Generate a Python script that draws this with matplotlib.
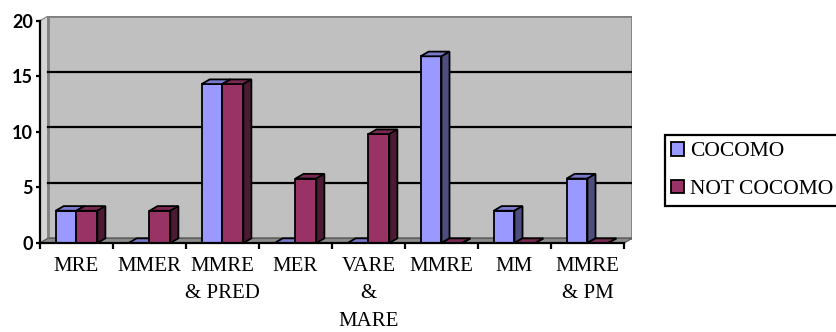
import matplotlib.pyplot as plt
from matplotlib.patches import Polygon, Patch

categories = ["MRE", "MMER", "MMRE\n& PRED", "MER", "VARE\n&\nMARE", "MMRE", "MM", "MMRE\n& PM"]
cocomo = [2.9, 0, 14.3, 0, 0, 16.8, 2.9, 5.8]
not_cocomo = [2.9, 2.9, 14.3, 5.8, 9.8, 0, 0, 0]
series_names = ["COCOMO", "NOT COCOMO"]
yticks = [0, 5, 10, 15, 20]

# face colours: front, top, side
colores = {
    "COCOMO": ("#9999FF", "#7A7ACC", "#4D4D80"),
    "NOT COCOMO": ("#993366", "#7A2952", "#4D1A33"),
}

DX, DY = 0.11, 0.42      # depth offset of the 3d look, in data units
ANCHO = 1 / 3.5          # bar width, gap width 150%
YMAX = 20

fig = plt.figure(figsize=(8.37, 3.32), dpi=100)
ax = fig.add_axes([40 / 837, 89 / 332, 592 / 837, 227.5 / 332])
n = len(categories)
ax.set_xlim(0, n + DX)
ax.set_ylim(0, YMAX + DY + 0.05)

# walls and floor
ax.add_patch(Polygon([(0, 0), (DX, DY), (DX, YMAX + DY), (0, YMAX)],
                     closed=True, facecolor="#D4D4D4", edgecolor="#909090", lw=1, zorder=1))
ax.add_patch(Polygon([(DX, DY), (n + DX, DY), (n + DX, YMAX + DY), (DX, YMAX + DY)],
                     closed=True, facecolor="#C0C0C0", edgecolor="#808080", lw=2, zorder=1))
for v in yticks[1:-1]:
    ax.plot([DX, n + DX], [v + DY, v + DY], color="black", lw=1.6, zorder=2)
ax.add_patch(Polygon([(0, 0), (n, 0), (n + DX, DY), (DX, DY)],
                     closed=True, facecolor="#8C8C8C", edgecolor="#606060", lw=1, zorder=2))


def barra_3d(x0, h, nombre):
    frente, arriba, lado = colores[nombre]
    x1 = x0 + ANCHO
    ax.bar(x0, h, width=ANCHO, align="edge", color=frente, edgecolor="black",
           linewidth=1.3, zorder=3)
    ax.add_patch(Polygon([(x0, h), (x1, h), (x1 + DX, h + DY), (x0 + DX, h + DY)],
                         closed=True, facecolor=arriba, edgecolor="black", lw=1.3, zorder=3))
    ax.add_patch(Polygon([(x1, 0), (x1 + DX, DY), (x1 + DX, h + DY), (x1, h)],
                         closed=True, facecolor=lado, edgecolor="black", lw=1.3, zorder=3))


for i in range(n):
    barra_3d(i + 0.5 - ANCHO, cocomo[i], "COCOMO")
    barra_3d(i + 0.5, not_cocomo[i], "NOT COCOMO")

# axes
for s in ["top", "right"]:
    ax.spines[s].set_visible(False)
ax.spines["left"].set_bounds(0, YMAX)
ax.spines["bottom"].set_bounds(0, n)
ax.spines["left"].set_linewidth(1.6)
ax.spines["bottom"].set_linewidth(1.6)
ax.spines["left"].set_zorder(5)
ax.spines["bottom"].set_zorder(5)

ax.set_yticks(yticks)
ax.set_yticklabels([str(v) for v in yticks], fontsize=13, fontweight="bold",
                   family="Lato")
ax.tick_params(axis="y", length=3, width=1.6, pad=2)

ax.set_xticks(range(n + 1))
ax.set_xticklabels([])
ax.tick_params(axis="x", which="major", length=4, width=1.6, direction="out")
ax.set_xticks([i + 0.5 for i in range(n)], minor=True)
ax.set_xticklabels(categories, minor=True, fontsize=15, family="Liberation Serif",
                   linespacing=1.6)
ax.tick_params(axis="x", which="minor", length=0, pad=10)

handles = [Patch(facecolor=colores[s][0], edgecolor="black", lw=1.3) for s in series_names]
leg = fig.legend(handles, series_names, loc="center left",
                 bbox_to_anchor=(665 / 837, 1 - 170.5 / 332),
                 prop={"family": "Liberation Serif", "size": 15.5},
                 handlelength=0.6, handleheight=0.6, handletextpad=0.25,
                 borderpad=0.3, labelspacing=0.85, borderaxespad=0,
                 fancybox=False, framealpha=1, edgecolor="black")
leg.get_frame().set_linewidth(1.6)

fig.savefig("out.png", dpi=100)
